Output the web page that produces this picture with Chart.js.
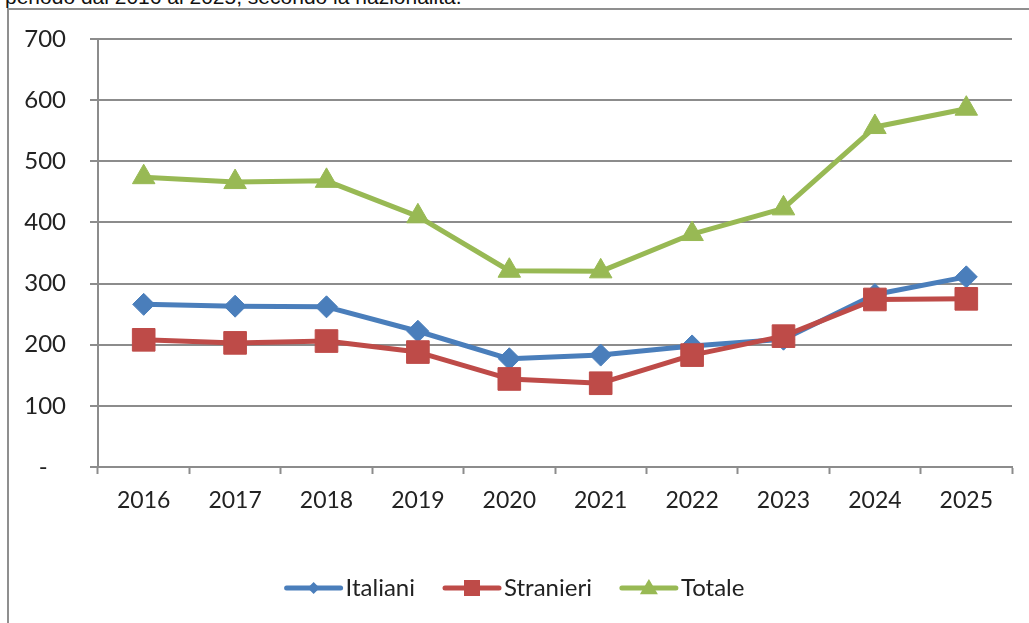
<!DOCTYPE html>
<html>
<head>
<meta charset="utf-8">
<script src="https://cdn.jsdelivr.net/npm/chart.js@4/dist/chart.umd.min.js"></script>
<style>
  html, body { margin: 0; padding: 0; background: #fff; overflow: hidden; }
  .wrap { position: relative; width: 1029px; height: 623px; }
  .caption {
    position: absolute; left: 5px; top: -13px;
    font: 21px "Liberation Sans", Arial, sans-serif; line-height: 20px;
    color: #111; white-space: nowrap;
  }
  .frame {
    position: absolute; left: 7px; top: 8px; width: 1040px; height: 700px;
    border-left: 2px solid #8f8f8f; border-top: 2px solid #8f8f8f;
  }
  canvas { position: absolute; left: 0; top: 0; }
</style>
</head>
<body>
<div class="wrap">
  <div class="caption">periodo dal 2016 al 2025, secondo la nazionalità.</div>
  <div class="frame"></div>
  <canvas id="chart" width="1029" height="623"></canvas>
</div>
<script>
const years = ["2016", "2017", "2018", "2019", "2020", "2021", "2022", "2023", "2024", "2025"];
const italiani = [266, 263, 262, 222, 177, 183, 198, 209, 282, 311];
const stranieri = [208, 203, 206, 188, 144, 137, 183, 214, 274, 275];
const totale = [474, 466, 468, 410, 321, 320, 381, 423, 556, 586];
const yTicks = [0, 100, 200, 300, 400, 500, 600, 700];

const gridColor = "#8c8c8c";
const textColor = "#222";
const fontFamily = "Lato, 'Open Sans', sans-serif";

const series = [
  { label: "Italiani", data: italiani, color: "#4a7ebb", style: "rectRot", radius: 11, legendSize: 6 },
  { label: "Stranieri", data: stranieri, color: "#be4b48", style: "rect", radius: 16, legendSize: 8 },
  { label: "Totale", data: totale, color: "#98b954", style: "triangle", radius: 13, legendSize: 9 },
];

// excel-like legend: short line with the marker on it, then the name
const lineLegend = {
  id: "lineLegend",
  afterDraw(chart) {
    const ctx = chart.ctx;
    const lineW = 58, gapText = 3, gapItem = 28;
    const y = 588;
    ctx.save();
    ctx.font = "24px " + fontFamily;
    ctx.textBaseline = "middle";
    let total = 0;
    series.forEach((s, i) => {
      total += lineW + gapText + ctx.measureText(s.label).width;
      if (i < series.length - 1) total += gapItem;
    });
    let x = chart.width / 2 - total / 2;
    series.forEach((s) => {
      ctx.strokeStyle = s.color;
      ctx.fillStyle = s.color;
      ctx.lineWidth = 5;
      ctx.lineCap = "round";
      ctx.beginPath();
      ctx.moveTo(x + 2, y);
      ctx.lineTo(x + lineW - 2, y);
      ctx.stroke();
      const cx = x + lineW / 2, r = s.legendSize;
      ctx.beginPath();
      if (s.style === "rectRot") {
        ctx.moveTo(cx, y - r); ctx.lineTo(cx + r, y); ctx.lineTo(cx, y + r); ctx.lineTo(cx - r, y);
      } else if (s.style === "rect") {
        ctx.rect(cx - r, y - r, 2 * r, 2 * r);
      } else {
        ctx.moveTo(cx, y - r); ctx.lineTo(cx + r, y + r * 0.7); ctx.lineTo(cx - r, y + r * 0.7);
      }
      ctx.closePath();
      ctx.fill();
      ctx.fillStyle = textColor;
      ctx.fillText(s.label, x + lineW + gapText, y);
      x += lineW + gapText + ctx.measureText(s.label).width + gapItem;
    });
    ctx.restore();
  },
};

new Chart(document.getElementById("chart"), {
  type: "line",
  data: {
    labels: years,
    datasets: series.map((s, i) => ({
      label: s.label,
      data: s.data,
      borderColor: s.color,
      backgroundColor: s.color,
      borderWidth: 5,
      borderCapStyle: "round",
      borderJoinStyle: "round",
      tension: 0,
      fill: false,
      pointStyle: s.style,
      pointRadius: s.radius,
      pointBorderWidth: 1,
      pointBackgroundColor: s.color,
      pointBorderColor: s.color,
      order: series.length - i,
    })),
  },
  options: {
    responsive: false,
    animation: false,
    events: [],
    layout: { padding: { top: 39, right: 12, left: 0, bottom: 0 } },
    plugins: { legend: { display: false }, tooltip: { enabled: false } },
    scales: {
      x: {
        offset: true,
        afterFit: (scale) => { scale.height = 156; },
        grid: {
          offset: true,
          drawOnChartArea: false,
          drawTicks: true,
          tickLength: 7,
          tickWidth: 2,
          tickColor: gridColor,
        },
        border: { display: true, color: gridColor, width: 2 },
        ticks: {
          color: textColor,
          padding: 13,
          maxRotation: 0,
          font: { family: fontFamily, size: 23 },
        },
      },
      y: {
        min: 0,
        max: 700,
        afterFit: (scale) => { scale.width = 98; },
        afterBuildTicks: (scale) => { scale.ticks = yTicks.map((v) => ({ value: v })); },
        grid: {
          color: gridColor,
          lineWidth: 2,
          drawTicks: true,
          tickLength: 8,
          tickColor: gridColor,
        },
        border: { display: true, color: gridColor, width: 2 },
        ticks: {
          color: textColor,
          padding: 24,
          font: { family: fontFamily, size: 24 },
          callback: (v) => (v === 0 ? "-   " : v),
        },
      },
    },
  },
  plugins: [lineLegend],
});
</script>
</body>
</html>
